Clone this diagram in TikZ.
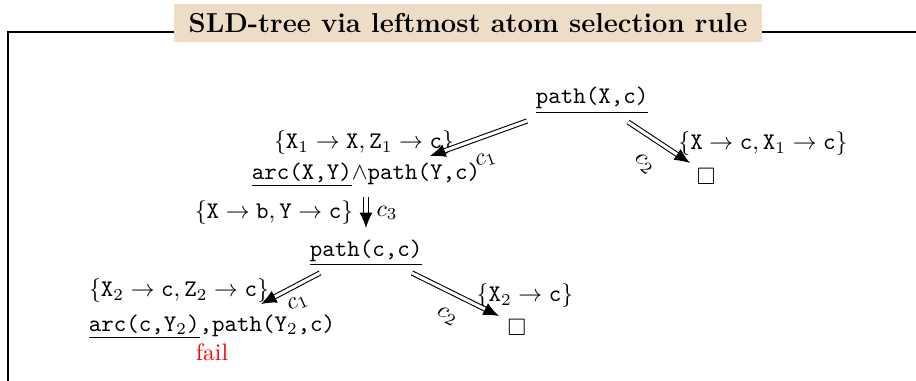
\documentclass[tikz,border=0pt]{standalone}
\usepackage{amsmath,amssymb}
\usetikzlibrary{arrows.meta}
\definecolor{titlebg}{RGB}{237,220,198}
\begin{document}
\begin{tikzpicture}[x=0.42pt,y=-0.42pt,
  frameline/.style={line width=0.8pt},
  titlebox/.style={fill=titlebg,inner xsep=6.1pt,minimum height=16pt,font=\fontsize{11.5pt}{13.8pt}\selectfont\bfseries},
  goal/.style={inner sep=0pt,anchor=base},
  subst/.style={inner sep=0pt},
  derive/.style={double,double distance=1.3pt,line width=0.45pt,-{Latex[length=6.5pt,width=5.5pt]}},
  clab/.style={inner sep=0pt},
  failtext/.style={text=red,inner sep=0pt}]
\useasboundingbox (0,0) rectangle (916,381);
% frame
\coordinate (fbl) at (8,381);
\coordinate (ftl) at (8,32);
\coordinate (ftr) at (916,32);
\draw[frameline] (fbl) -- (ftl) -- (ftr);
\node[titlebox] (title) at (468,23) {SLD-tree via leftmost atom selection rule};
% goals
\node[goal] (root) at (592,104) {\underline{\texttt{path(X,c)}}};
\node[goal] (g1) at (366,179) {\underline{\texttt{arc(X,Y)}}$\wedge$\texttt{path(Y,c)}};
\node[subst] (e1) at (706,176) {$\square$};
\node[goal] (g2) at (366,256) {\underline{\texttt{path(c,c)}}};
\node[goal] (g3) at (212,331) {\underline{\texttt{arc(c,Y$_2$)}}\texttt{,path(Y$_2$,c)}};
\node[failtext] (fail) at (212,352) {fail};
\node[subst] (e2) at (517,327) {$\square$};
% substitutions
\node[subst] (s1) at (364,143) {$\{\mathtt{X}_1\rightarrow\mathtt{X},\mathtt{Z}_1\rightarrow\mathtt{c}\}$};
\node[subst] (s2) at (763,144) {$\{\mathtt{X}\rightarrow\mathtt{c},\mathtt{X}_1\rightarrow\mathtt{c}\}$};
\node[subst] (s3) at (274,213) {$\{\mathtt{X}\rightarrow\mathtt{b},\mathtt{Y}\rightarrow\mathtt{c}\}$};
\node[subst] (s4) at (179,291) {$\{\mathtt{X}_2\rightarrow\mathtt{c},\mathtt{Z}_2\rightarrow\mathtt{c}\}$};
\node[subst] (s5) at (525,296) {$\{\mathtt{X}_2\rightarrow\mathtt{c}\}$};
% connector ends
\coordinate (a1s) at (527,121);
\coordinate (a1e) at (430,156);
\coordinate (a2s) at (628,122);
\coordinate (a2e) at (690,163);
\coordinate (a3s) at (366,197);
\coordinate (a3e) at (366,228);
\coordinate (a4s) at (320,273);
\coordinate (a4e) at (261,304);
\coordinate (a5s) at (412,273);
\coordinate (a5e) at (499,316);
\draw[derive] (a1s) -- (a1e);
\draw[derive] (a2s) -- (a2e);
\draw[derive] (a3s) -- (a3e);
\draw[derive] (a4s) -- (a4e);
\draw[derive] (a5s) -- (a5e);
% clause labels
\node[clab,rotate=20] (l1) at (486,160) {$c_1$};
\node[clab,rotate=-40] (l2) at (644,164) {$c_2$};
\node[clab] (l3) at (387,213) {$c_3$};
\node[clab,rotate=24] (l4) at (298,303) {$c_1$};
\node[clab,rotate=-27] (l5) at (447,316) {$c_2$};
\end{tikzpicture}
\end{document}
